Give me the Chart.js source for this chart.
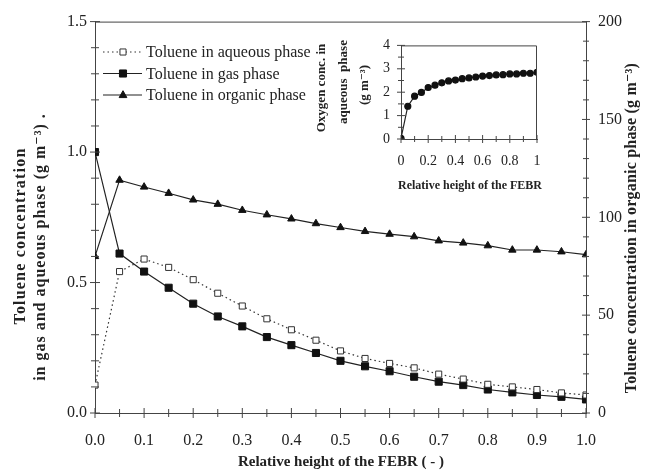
<!DOCTYPE html>
<html>
<head>
<meta charset="utf-8">
<script src="https://cdn.jsdelivr.net/npm/chart.js@4/dist/chart.umd.min.js"></script>
<style>
  html, body { margin: 0; padding: 0; background: #fff; }
  #wrap { position: relative; width: 648px; height: 470px; }
  #main { position: absolute; left: 0; top: 0; }
  #inset { position: absolute; left: 300px; top: 26px; }
</style>
</head>
<body>
<div id="wrap">
  <canvas id="main" width="648" height="470"></canvas>
  <canvas id="inset" width="260" height="174"></canvas>
</div>
<script>
// relative height of the FEBR (x positions of the measured points)
const HEIGHTS = [0, 0.05, 0.1, 0.15, 0.2, 0.25, 0.3, 0.35, 0.4, 0.45, 0.5,
  0.55, 0.6, 0.65, 0.7, 0.75, 0.8, 0.85, 0.9, 0.95, 1.0];

const AQUEOUS = [0.107, 0.542, 0.590, 0.558, 0.511, 0.459, 0.410, 0.361, 0.319, 0.279, 0.238,
  0.209, 0.190, 0.173, 0.149, 0.130, 0.110, 0.100, 0.090, 0.077, 0.069];

const GAS = [1.0, 0.611, 0.542, 0.480, 0.419, 0.370, 0.332, 0.291, 0.260, 0.230, 0.200,
  0.179, 0.160, 0.139, 0.120, 0.107, 0.090, 0.079, 0.069, 0.062, 0.052];

const ORGANIC = [80, 119, 115.5, 112.3, 108.9, 106.7, 103.6, 101.3, 99.2, 96.8, 94.8,
  92.8, 91.4, 90.1, 88.0, 86.9, 85.5, 83.3, 83.3, 82.4, 80.9];

const OXYGEN = [0.03, 1.40, 1.83, 1.99, 2.20, 2.30, 2.40, 2.48, 2.52, 2.58, 2.61,
  2.65, 2.69, 2.71, 2.74, 2.75, 2.78, 2.78, 2.81, 2.81, 2.85];

const SERIES_LABELS = ["Toluene in aqueous phase", "Toluene in gas phase", "Toluene in organic phase"];

const INK = "#222";
const AXIS = "#444";
const SERIF = "'Liberation Serif', 'DejaVu Serif', serif";

Chart.defaults.font.family = SERIF;
Chart.defaults.color = INK;

const pts = (ys) => ys.map((y, i) => ({ x: HEIGHTS[i], y }));
const near = (v, step) => Math.abs(v / step - Math.round(v / step)) < 1e-6;

// tick marks that cross the axis line, drawn from the scale's own ticks
function crossTicks(ctx, scale, area, side, len) {
  scale.ticks.forEach((t) => {
    const p = scale.getPixelForValue(t.value);
    const l = t.label !== "" ? len + 1 : len;
    ctx.beginPath();
    if (side === "bottom") {
      ctx.moveTo(p, area.bottom - l); ctx.lineTo(p, area.bottom + l);
    } else {
      const x0 = side === "left" ? area.left : area.right;
      ctx.moveTo(x0 - l, p); ctx.lineTo(x0 + l, p);
    }
    ctx.stroke();
  });
}

function vText(ctx, text, x, y, font, spacing) {
  ctx.save();
  ctx.translate(x, y);
  ctx.rotate(-Math.PI / 2);
  ctx.font = font;
  if (spacing) ctx.letterSpacing = spacing + "px";
  ctx.textAlign = "center";
  ctx.textBaseline = "middle";
  ctx.fillText(text, 0, 0);
  ctx.restore();
}

function marker(ctx, style, x, y, r, fill) {
  ctx.beginPath();
  if (style === "rect") {
    const s = Math.SQRT1_2 * r;
    ctx.rect(x - s, y - s, 2 * s, 2 * s);
  } else if (style === "triangle") {
    ctx.moveTo(x, y - r);
    ctx.lineTo(x + r * 0.9, y + r * 0.6);
    ctx.lineTo(x - r * 0.9, y + r * 0.6);
    ctx.closePath();
  }
  ctx.fillStyle = fill;
  ctx.fill();
  ctx.stroke();
}

const mainDecor = {
  id: "mainDecor",
  afterDraw(chart) {
    const { ctx, chartArea: a, scales } = chart;
    ctx.save();
    ctx.strokeStyle = AXIS;
    ctx.lineWidth = 1;
    ctx.beginPath();
    ctx.moveTo(a.left, a.top + 0.5); ctx.lineTo(a.right, a.top + 0.5);
    ctx.stroke();
    crossTicks(ctx, scales.x, a, "bottom", 4);
    crossTicks(ctx, scales.y, a, "left", 4);
    crossTicks(ctx, scales.y2, a, "right", 3);

    ctx.fillStyle = INK;
    const bold = "bold 16px " + SERIF;
    vText(ctx, "Toluene concentration", 21, 236, bold, 1.2);
    vText(ctx, "in gas and aqueous phase (g m\u207B\u00B3) .", 41, 247, bold, 1.0);
    vText(ctx, "Toluene concentration in organic phase (g m\u207B\u00B3)", 632, 228, bold, 0.2);
    ctx.font = "bold 15px " + SERIF;
    ctx.textAlign = "center";
    ctx.textBaseline = "middle";
    ctx.fillText("Relative height of the FEBR ( - )", 341, 462);

    // legend
    const rows = [52, 73.5, 95];
    chart.data.datasets.forEach((ds, i) => {
      const y = rows[i];
      ctx.strokeStyle = ds.borderColor;
      ctx.lineWidth = ds.borderWidth;
      ctx.setLineDash(ds.borderDash || []);
      ctx.beginPath();
      ctx.moveTo(103, y); ctx.lineTo(142, y);
      ctx.stroke();
      ctx.setLineDash([]);
      ctx.lineWidth = 1;
      ctx.strokeStyle = ds.pointBorderColor;
      marker(ctx, ds.pointStyle, 123, y, ds.pointRadius, ds.pointBackgroundColor);
      ctx.fillStyle = INK;
      ctx.font = "16px " + SERIF;
      ctx.textAlign = "left";
      ctx.fillText(ds.label, 146, y + 1);
    });
    ctx.restore();
  },
};

new Chart(document.getElementById("main"), {
  type: "line",
  data: {
    datasets: [
      {
        label: SERIES_LABELS[0],
        data: pts(AQUEOUS),
        yAxisID: "y",
        borderColor: "#333",
        borderWidth: 1.2,
        borderDash: [1.5, 3],
        pointStyle: "rect",
        pointRadius: 4.3,
        pointBackgroundColor: "#fff",
        pointBorderColor: "#333",
        pointBorderWidth: 1,
      },
      {
        label: SERIES_LABELS[1],
        data: pts(GAS),
        yAxisID: "y",
        borderColor: "#222",
        borderWidth: 1.2,
        pointStyle: "rect",
        pointRadius: 5,
        pointBackgroundColor: "#111",
        pointBorderColor: "#111",
        pointBorderWidth: 1,
      },
      {
        label: SERIES_LABELS[2],
        data: pts(ORGANIC),
        yAxisID: "y2",
        borderColor: "#222",
        borderWidth: 1.2,
        pointStyle: "triangle",
        pointRadius: 4.3,
        pointBackgroundColor: "#111",
        pointBorderColor: "#111",
        pointBorderWidth: 1,
      },
    ],
  },
  options: {
    responsive: false,
    devicePixelRatio: 1,
    animation: false,
    layout: { padding: { top: 20, left: 0, right: 0, bottom: 0 } },
    plugins: { legend: { display: false }, tooltip: { enabled: false } },
    elements: { line: { tension: 0 } },
    scales: {
      x: {
        type: "linear",
        min: 0,
        max: 1,
        grid: { display: false, drawTicks: false },
        border: { display: true, color: AXIS, width: 1 },
        afterFit: (s) => { s.height = 57; },
        ticks: {
          stepSize: 0.05,
          autoSkip: false,
          maxRotation: 0,
          padding: 18,
          font: { size: 16 },
          callback: (v) => (near(v, 0.1) ? v.toFixed(1) : ""),
        },
      },
      y: {
        position: "left",
        min: 0,
        max: 1.5,
        grid: { display: false, drawTicks: false },
        border: { display: true, color: AXIS, width: 1 },
        afterFit: (s) => { s.width = 95; },
        ticks: {
          stepSize: 0.1,
          autoSkip: false,
          padding: 8,
          font: { size: 16 },
          callback: (v) => (near(v, 0.5) ? v.toFixed(1) : ""),
        },
      },
      y2: {
        position: "right",
        min: 0,
        max: 200,
        grid: { display: false, drawTicks: false },
        border: { display: true, color: AXIS, width: 1 },
        afterFit: (s) => { s.width = 62; },
        ticks: {
          stepSize: 10,
          autoSkip: false,
          padding: 12,
          font: { size: 16 },
          callback: (v) => (near(v, 50) ? String(v) : ""),
        },
      },
    },
  },
  plugins: [mainDecor],
});

const insetDecor = {
  id: "insetDecor",
  afterDraw(chart) {
    const { ctx, chartArea: a, scales } = chart;
    ctx.save();
    ctx.strokeStyle = AXIS;
    ctx.lineWidth = 1;
    ctx.beginPath();
    ctx.moveTo(a.left, a.top + 0.5); ctx.lineTo(a.right - 0.5, a.top + 0.5);
    ctx.lineTo(a.right - 0.5, a.bottom);
    ctx.stroke();
    crossTicks(ctx, scales.x, a, "bottom", 3);
    crossTicks(ctx, scales.y, a, "left", 3);

    ctx.fillStyle = INK;
    const bold = "bold 13px " + SERIF;
    vText(ctx, "Oxygen conc. in", 22, 62, bold);
    vText(ctx, "aqueous  phase", 44, 56, bold);
    vText(ctx, "(g m\u207B\u00B3)", 65, 59, bold);
    ctx.font = "bold 12px " + SERIF;
    ctx.textAlign = "center";
    ctx.textBaseline = "middle";
    ctx.fillText("Relative height of the FEBR", 170, 160);
    ctx.restore();
  },
};

new Chart(document.getElementById("inset"), {
  type: "line",
  data: {
    datasets: [{
      data: pts(OXYGEN),
      borderColor: "#222",
      borderWidth: 1.2,
      pointStyle: "circle",
      pointRadius: 3,
      pointBackgroundColor: "#111",
      pointBorderColor: "#111",
    }],
  },
  options: {
    responsive: false,
    devicePixelRatio: 1,
    animation: false,
    layout: { padding: { top: 0, left: 0, right: 23, bottom: 0 } },
    plugins: { legend: { display: false }, tooltip: { enabled: false } },
    scales: {
      x: {
        type: "linear",
        min: 0,
        max: 1,
        grid: { display: false, drawTicks: false },
        border: { display: true, color: AXIS, width: 1 },
        afterFit: (s) => { s.height = 61; },
        ticks: {
          stepSize: 0.1,
          autoSkip: false,
          maxRotation: 0,
          padding: 14,
          font: { size: 14 },
          callback: (v) => (near(v, 0.2) ? String(Math.round(v * 10) / 10) : ""),
        },
      },
      y: {
        min: 0,
        max: 4,
        grid: { display: false, drawTicks: false },
        border: { display: true, color: AXIS, width: 1 },
        afterFit: (s) => { s.width = 101; },
        ticks: {
          stepSize: 0.5,
          autoSkip: false,
          padding: 11,
          font: { size: 14 },
          callback: (v) => (near(v, 1) ? String(v) : ""),
        },
      },
    },
  },
  plugins: [insetDecor],
});
</script>
</body>
</html>
